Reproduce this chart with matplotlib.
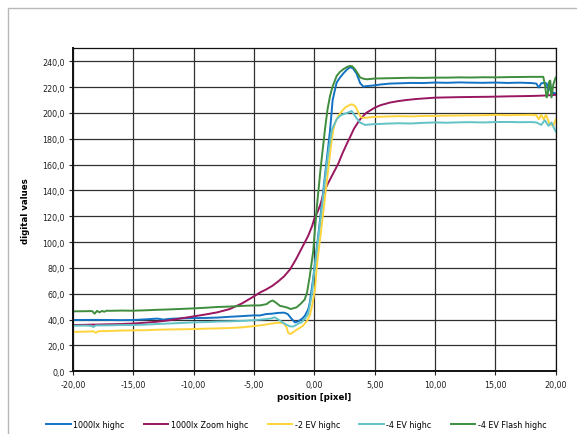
import matplotlib
matplotlib.use("Agg")
import matplotlib.pyplot as plt
from matplotlib.patches import Rectangle

# ---- data: edge profile across the slanted edge ----
x_1000lx = [-20, -18, -16, -15, -14, -13, -12.5, -12, -11, -10, -9, -8, -7, -6, -5, -4.5, -4, -3.5,
            -3, -2.5, -2.2, -1.9, -1.6, -1.3, -1.0, -0.78, -0.5, -0.37, -0.1, 0.13, 0.4, 0.7, 1.0,
            1.3, 1.52, 1.85, 2.1, 2.4, 2.7, 2.96, 3.2, 3.5, 3.8, 4.06, 4.4, 4.9, 5.5, 6.27, 7, 8, 9,
            10, 11, 12, 13, 14, 15, 16, 17, 18, 18.4, 18.6, 18.8, 19.0, 19.25, 19.4, 19.55, 19.65,
            19.8, 20]
y_1000lx = [39.7, 39.8, 39.6, 39.7, 40.2, 40.8, 40.0, 40.6, 41.0, 41.2, 41.3, 41.6, 42.2, 42.7, 43.3,
            43.2, 44.3, 44.6, 45.2, 45.4, 44.3, 40.8, 37.8, 38.8, 40.8, 43.0, 48.0, 53.3, 71.4, 89.4,
            111, 136, 161, 186, 210, 223.5, 227, 230.5, 233.5, 235.4, 234.5, 230.5, 223, 220.4,
            220.8, 221.2, 222, 222.7, 222.9, 223.2, 223.1, 223.5, 223.3, 223.6, 223.4, 223.3,
            223.5, 223.2, 223.4, 223.1, 222.7, 219.6, 222.9, 223.2, 222.8, 217, 222.5, 213,
            215.8, 215]

x_zoom = [-20, -18, -16, -15, -14, -13, -12, -11, -10, -9, -8, -7, -6, -5, -4.5, -4, -3.5, -3, -2.5,
          -2, -1.5, -1, -0.5, -0.2, 0, 0.3, 0.5, 0.75, 1.03, 1.5, 2.0, 2.3, 2.68, 2.95, 3.3, 3.79,
          4.3, 5, 5.5, 6.27, 7, 7.65, 8.5, 10, 12, 14.55, 16, 18, 19, 20]
y_zoom = [35.8, 36.2, 36.6, 37.0, 37.6, 38.4, 39.5, 41.0, 42.5, 44.0, 45.7, 48.2, 52.5, 58.0, 61.0,
          63.3, 66.0, 69.5, 73.5, 79.0, 87.0, 96.0, 105.0, 112.0, 118.0, 124.0, 129.0, 137.0,
          143.5, 152.0, 161.0, 168.0, 175.8, 181.0, 188.0, 195.0, 200.0, 204.0, 206.0, 208.0,
          209.2, 210.0, 210.8, 211.8, 212.2, 212.5, 212.8, 213.1, 213.4, 214.0]

x_m2ev = [-20, -19, -18.3, -18.1, -17.9, -17, -16, -15, -14, -13, -12, -11, -10, -9, -8, -7, -6, -5,
          -4.5, -4, -3.5, -3.12, -2.8, -2.5, -2.3, -2.15, -1.95, -1.77, -1.4, -0.94, -0.6, -0.38,
          -0.2, 0.04, 0.24, 0.5, 0.8, 1.1, 1.4, 1.57, 1.75, 1.99, 2.25, 2.54, 2.8, 3.1, 3.37, 3.51,
          3.65, 3.79, 3.93, 4.2, 4.6, 5, 6, 7, 8, 9, 10, 11, 12, 13, 14, 15, 16, 17, 18, 18.4, 18.6,
          18.8, 19.0, 19.2, 19.5, 19.8, 20]
y_m2ev = [30.5, 30.7, 31.0, 29.8, 31.0, 31.2, 31.5, 31.7, 31.8, 32.2, 32.4, 32.5, 32.7, 33.0, 33.2,
          33.5, 34.0, 35.0, 35.5, 36.2, 37.0, 37.4, 37.6, 37.0, 34.0, 29.5, 28.9, 30.2, 32.5, 35.3,
          39.0, 43.0, 50.0, 62.0, 84.3, 104, 128, 152, 176, 187, 193, 197.7, 201, 204, 205.5,
          206.7, 205.4, 203, 200.3, 197.7, 196.4, 196.2, 196.6, 196.9, 197.2, 197.5, 197.3,
          197.6, 197.7, 197.9, 198.0, 198.1, 198.2, 198.5, 198.2, 198.4, 198.5, 198.2, 195.1,
          198.5, 195.0, 198.5, 191.3, 190.0, 195.0]

x_m4ev = [-20, -19, -18.5, -18.3, -18.1, -17, -16, -15, -14, -13, -12, -11, -10, -9, -8, -7, -6, -5,
          -4.5, -4, -3.53, -3.3, -3.12, -2.8, -2.57, -2.3, -2.02, -1.8, -1.61, -1.3, -1.06, -0.75,
          -0.51, -0.2, 0.0, 0.3, 0.6, 0.9, 1.2, 1.46, 1.7, 1.85, 2.13, 2.4, 2.82, 3.1, 3.23, 3.5,
          3.79, 4.2, 4.5, 5, 6, 7, 8, 9, 10, 11, 12, 13, 14, 15, 16, 17, 18, 18.4, 18.8, 19.1,
          19.4, 19.65, 19.85, 20]
y_m4ev = [35.3, 35.4, 35.2, 34.3, 35.5, 35.6, 35.8, 35.8, 36.1, 36.6, 37.0, 37.4, 37.9, 38.1, 38.5,
          38.7, 39.0, 39.6, 40.0, 40.4, 41.0, 41.8, 40.8, 39.0, 37.4, 36.0, 34.8, 34.6, 35.3,
          37.0, 37.9, 41.0, 44.3, 60.0, 78.0, 101, 125, 150, 172, 187, 192, 195, 197.7, 199,
          200.3, 201.5, 199.5, 196, 192.6, 190.7, 191, 191.3, 191.7, 192.0, 191.8, 192.3, 192.6,
          192.4, 192.7, 192.8, 192.6, 192.9, 193.0, 192.8, 192.9, 192.6, 190.7, 194.4, 190.0,
          192.6, 188.5, 185.6]

x_flash = [-20, -19, -18.4, -18.2, -18.0, -17.8, -17.6, -17.4, -17.2, -17, -16, -15, -14, -13, -12,
           -11, -10, -9, -8, -7, -6, -5.05, -4.5, -3.95, -3.7, -3.45, -3.2, -2.85, -2.3, -1.95,
           -1.47, -1.1, -0.8, -0.6, -0.37, -0.09, 0.2, 0.5, 0.88, 1.1, 1.3, 1.5, 1.85, 2.1, 2.4,
           2.7, 2.96, 3.15, 3.37, 3.6, 3.8, 4.06, 4.35, 5, 6, 7, 8, 9, 10, 11, 12, 13, 14, 15, 16,
           17, 18, 18.97, 19.1, 19.25, 19.35, 19.45, 19.55, 19.65, 19.8, 20]
y_flash = [46.4, 46.5, 46.6, 44.6, 46.8, 45.6, 46.7, 46.1, 46.9, 46.8, 47.0, 46.9, 47.2, 47.6, 47.9,
           48.3, 48.7, 49.2, 49.8, 50.1, 50.6, 51.0, 51.0, 52.0, 53.8, 54.8, 53.3, 50.7, 49.5,
           48.2, 49.5, 52.5, 55.5, 61.0, 74.0, 93.0, 126, 155, 187, 203, 213, 220, 228.6, 231.5,
           233.8, 235.5, 236.4, 236.0, 233.8, 230.5, 227.4, 226.5, 226.0, 226.6, 226.8, 227.0,
           227.2, 227.1, 227.3, 227.3, 227.5, 227.4, 227.6, 227.5, 227.7, 227.8, 227.9, 227.9,
           222.0, 212.0, 215.0, 224.0, 225.0, 212.0, 222.0, 227.4]

series_names = ["1000lx highc", "1000lx Zoom highc", "-2 EV highc", "-4 EV highc", "-4 EV Flash highc"]
series_colors = ["#1272C4", "#991660", "#FFD43B", "#62C2C6", "#3E8E3E"]

x_ticks = [-20, -15, -10, -5, 0, 5, 10, 15, 20]
x_ticklabels = ["-20,00", "-15,00", "-10,00", "-5,00", "0,00", "5,00", "10,00", "15,00", "20,00"]
y_ticks = [0, 20, 40, 60, 80, 100, 120, 140, 160, 180, 200, 220, 240]
y_ticklabels = ["0,0", "20,0", "40,0", "60,0", "80,0", "100,0", "120,0", "140,0", "160,0",
                "180,0", "200,0", "220,0", "240,0"]

plt.rcParams["font.family"] = ["DejaVu Sans"]

fig = plt.figure(figsize=(5.77, 4.35), dpi=100)
fig.patch.set_facecolor("white")

# thin frame around the chart area
fig.add_artist(Rectangle((8 / 577, -0.2), 1.2, (435 - 9) / 435 + 0.2,
                         transform=fig.transFigure, fill=False,
                         edgecolor="#b8b8b8", linewidth=1.0))

ax = fig.add_axes([72.9 / 577, 1 - 372.3 / 435, (555.7 - 72.9) / 577, (372.3 - 49.3) / 435])

ax.set_xlim(-20, 20)
ax.set_ylim(0, 250)
ax.set_xticks(x_ticks)
ax.set_xticklabels(x_ticklabels)
ax.set_yticks(y_ticks)
ax.set_yticklabels(y_ticklabels)

ax.grid(True, color="#303030", linewidth=0.9)
ax.set_axisbelow(True)
ax.tick_params(axis="both", labelsize=5.8, colors="#222222", length=3, width=0.8,
               direction="out", pad=3)
for side, sp in ax.spines.items():
    sp.set_color("#111111")
    sp.set_linewidth(1.4 if side in ("left", "bottom") else 0.9)

data = [(x_1000lx, y_1000lx), (x_zoom, y_zoom), (x_m2ev, y_m2ev),
        (x_m4ev, y_m4ev), (x_flash, y_flash)]
handles = []
for (xs, ys), name, col in zip(data, series_names, series_colors):
    ln, = ax.plot(xs, ys, color=col, linewidth=1.4, label=name, solid_joinstyle="round")
    handles.append(ln)

ax.set_xlabel("position [pixel]", fontsize=6.2, fontweight="bold")
ax.xaxis.set_label_coords(0.5, -0.063)
ax.set_ylabel("digital values", fontsize=6.2, fontweight="bold")
ax.yaxis.set_label_coords(-0.089, 0.5)

fig.legend(handles=handles, loc="center", bbox_to_anchor=(296.5 / 577, 1 - 425.5 / 435), ncol=5,
           frameon=False, fontsize=5.8, handlelength=3.0, handletextpad=0.35,
           columnspacing=2.4, borderaxespad=0)

fig.savefig("out.png", dpi=100)
